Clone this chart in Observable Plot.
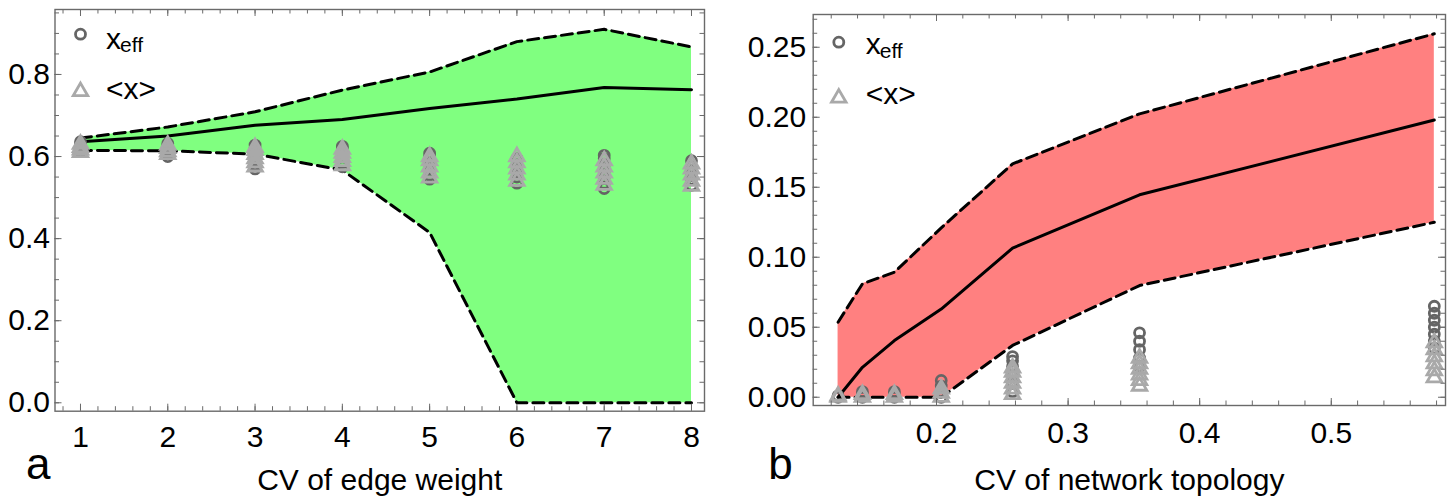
<!DOCTYPE html>
<html><head><meta charset="utf-8">
<script src="https://cdn.jsdelivr.net/npm/d3@7"></script>
<script src="https://cdn.jsdelivr.net/npm/@observablehq/plot@0.6"></script>
<style>
body{margin:0;background:#fff;}
#wrap{position:relative;width:1455px;height:501px;overflow:hidden;}
#pa{position:absolute;left:0;top:0;width:720px;}
#pb{position:absolute;left:720px;top:0;width:735px;}
</style></head><body><div id="wrap"><div id="pa"></div><div id="pb"></div></div>
<script>
// ---------- Panel a : CV of edge weight ----------
const cvEdge = [1, 2, 3, 4, 5, 6, 7, 8];
const edgeUpper = [0.645, 0.672, 0.709, 0.762, 0.806, 0.880, 0.910, 0.867];
const edgeMean  = [0.636, 0.650, 0.676, 0.690, 0.717, 0.740, 0.768, 0.763];
const edgeLower = [0.615, 0.614, 0.606, 0.567, 0.415, 0.000, 0.000, 0.000];
const edgeXeff = [
  [0.612, 0.620, 0.628, 0.636],
  [0.600, 0.608, 0.617, 0.625, 0.632],
  [0.570, 0.580, 0.590, 0.600, 0.610, 0.620, 0.628],
  [0.575, 0.585, 0.600, 0.610, 0.620, 0.625],
  [0.545, 0.555, 0.570, 0.585, 0.600, 0.608],
  [0.535, 0.550, 0.565, 0.580, 0.595],
  [0.522, 0.535, 0.550, 0.565, 0.580, 0.595, 0.603],
  [0.530, 0.545, 0.560, 0.575, 0.590]
];
const edgeXavg = [
  [0.610, 0.616, 0.622, 0.630],
  [0.605, 0.612, 0.620, 0.628],
  [0.575, 0.585, 0.595, 0.605, 0.615, 0.622],
  [0.578, 0.588, 0.598, 0.608, 0.618],
  [0.548, 0.560, 0.575, 0.590, 0.600],
  [0.540, 0.555, 0.570, 0.585, 0.600],
  [0.530, 0.545, 0.560, 0.575, 0.590],
  [0.528, 0.540, 0.555, 0.570, 0.582]
];
const edgeXTicks = [1, 2, 3, 4, 5, 6, 7, 8];
const edgeYTicks = [0.0, 0.2, 0.4, 0.6, 0.8];

// ---------- Panel b : CV of network topology ----------
const cvTopo = [0.1252, 0.1437, 0.1680, 0.2036, 0.2578, 0.3543, 0.5783];
const topoUpper = [0.0536, 0.0810, 0.0893, 0.1210, 0.1667, 0.2024, 0.2596];
const topoMean  = [0.0000, 0.0214, 0.0405, 0.0630, 0.1065, 0.1446, 0.1980];
const topoLower = [0.0000, 0.0000, 0.0000, 0.0000, 0.0370, 0.0798, 0.1250];
const topoXeff = [
  [0.000, 0.001],
  [0.000, 0.002, 0.004],
  [0.000, 0.002, 0.004],
  [0.000, 0.004, 0.008, 0.012],
  [0.004, 0.010, 0.016, 0.022, 0.026, 0.029],
  [0.022, 0.028, 0.034, 0.040, 0.046],
  [0.035, 0.040, 0.045, 0.050, 0.055, 0.060, 0.065]
];
const topoXavg = [
  [0.000, 0.001],
  [0.000, 0.002],
  [0.000, 0.002],
  [0.000, 0.003, 0.006],
  [0.002, 0.006, 0.010, 0.014, 0.018, 0.021],
  [0.008, 0.012, 0.016, 0.020, 0.024, 0.028],
  [0.014, 0.019, 0.024, 0.029, 0.034, 0.039]
];
const topoXTicks = [0.2, 0.3, 0.4, 0.5];
const topoYTicks = [0.00, 0.05, 0.10, 0.15, 0.20, 0.25];

const legendLabels = ["x", "eff", "<x>"];

const FONT = '"Liberation Sans", Arial, Helvetica, sans-serif';
const TICKC = "#6a6a6a";
const CIRC = {r: 5, symbol: "circle", stroke: "#656565", strokeWidth: 2.8, fill: "none"};
const TRI  = {r: 5.4, symbol: "triangle", stroke: "#a9a9a9", strokeWidth: 2.8, fill: "none"};

function makePanel(o) {
  const plotW = o.width - o.ml - o.mr, plotH = o.height - o.mt - o.mb;
  const band = o.xs.map((x, i) => ({x, hi: o.upper[i], mean: o.mean[i], lo: o.lower[i]}));
  const circ = o.xs.flatMap((x, i) => o.xeff[i].map(y => ({x, y})));
  const tri  = o.xs.flatMap((x, i) => o.xavg[i].map(y => ({x, y})));
  const MAJ = 7, MIN = 4.5;
  const tickMarks = [
    Plot.tickX(o.xMinor, {x: d => d, insetTop: plotH - MIN, stroke: TICKC}),
    Plot.tickX(o.xMinor, {x: d => d, insetBottom: plotH - MIN, stroke: TICKC}),
    Plot.tickX(o.xMajor, {x: d => d, insetTop: plotH - MAJ, stroke: TICKC}),
    Plot.tickX(o.xMajor, {x: d => d, insetBottom: plotH - MAJ, stroke: TICKC}),
    Plot.tickY(o.yMinor, {y: d => d, insetRight: plotW - MIN, stroke: TICKC}),
    Plot.tickY(o.yMinor, {y: d => d, insetLeft: plotW - MIN, stroke: TICKC}),
    Plot.tickY(o.yMajor, {y: d => d, insetRight: plotW - MAJ, stroke: TICKC}),
    Plot.tickY(o.yMajor, {y: d => d, insetLeft: plotW - MAJ, stroke: TICKC})
  ];
  const L = o.legend;
  return Plot.plot({
    width: o.width, height: o.height,
    marginLeft: o.ml, marginRight: o.mr, marginTop: o.mt, marginBottom: o.mb,
    style: {fontFamily: FONT, background: "white", color: "black"},
    x: {domain: o.xDomain},
    y: {domain: o.yDomain},
    marks: [
      Plot.areaY(band, {x: "x", y1: "lo", y2: "hi", fill: o.fill}),
      Plot.lineY(band, {x: "x", y: "hi", stroke: "black", strokeWidth: 3, strokeDasharray: "11,6"}),
      Plot.lineY(band, {x: "x", y: "lo", stroke: "black", strokeWidth: 3, strokeDasharray: "11,6"}),
      Plot.lineY(band, {x: "x", y: "mean", stroke: "black", strokeWidth: 3}),
      Plot.dot(circ, {x: "x", y: "y", ...CIRC}),
      Plot.dot(tri, {x: "x", y: "y", ...TRI}),
      Plot.frame({stroke: TICKC, strokeWidth: 1.4}),
      ...tickMarks,
      Plot.axisX({ticks: o.xMajor, tickSize: 0, tickPadding: o.xPad, tickFormat: d3.format(o.xFmt), fontSize: 30, label: null}),
      Plot.axisY({ticks: o.yMajor, tickSize: 0, tickPadding: o.yPad, tickFormat: d3.format(o.yFmt), fontSize: 30, label: null}),
      // legend
      Plot.dot([0], {frameAnchor: "top-left", dx: L.sx, dy: L.cy, ...CIRC}),
      Plot.dot([0], {frameAnchor: "top-left", dx: L.sx, dy: L.ty, ...TRI}),
      Plot.text([legendLabels[0]], {text: d => d, frameAnchor: "top-left", dx: L.tx, dy: L.y1, textAnchor: "start", lineAnchor: "middle", fontSize: 30}),
      Plot.text([legendLabels[1]], {text: d => d, frameAnchor: "top-left", dx: L.tx + 14, dy: L.y1 + 6, textAnchor: "start", lineAnchor: "middle", fontSize: 21}),
      Plot.text([legendLabels[2]], {text: d => d, frameAnchor: "top-left", dx: L.tx, dy: L.y2, textAnchor: "start", lineAnchor: "middle", fontSize: 30}),
      // axis title and panel letter
      Plot.text([o.xLabel], {text: d => d, frameAnchor: "bottom", dy: o.labelDy, lineAnchor: "middle", fontSize: 30}),
      Plot.text([o.letter], {text: d => d, frameAnchor: "bottom-left", dx: o.letterDx, dy: o.letterDy, textAnchor: "start", lineAnchor: "middle", fontSize: 44})
    ]
  });
}

document.getElementById("pa").append(makePanel({
  width: 720, height: 501, ml: 54.5, mr: 16, mt: 9, mb: 90.3,
  xDomain: [0.708, 8.149], yDomain: [-0.0205, 0.9583],
  xs: cvEdge, upper: edgeUpper, mean: edgeMean, lower: edgeLower,
  xeff: edgeXeff, xavg: edgeXavg, fill: "#80ff80",
  xMajor: edgeXTicks, xMinor: d3.range(0.8, 8.1, 0.2),
  yMajor: edgeYTicks, yMinor: d3.range(0, 0.96, 0.05),
  xFmt: "d", yFmt: ".1f", xPad: 14, yPad: 5,
  legend: {sx: 25.5, cy: 24.7, ty: 82, tx: 51, y1: 30, y2: 80},
  xLabel: "CV of edge weight", labelDy: 69,
  letter: "a", letterDx: -29, letterDy: 54
}));

document.getElementById("pb").append(makePanel({
  width: 735, height: 501, ml: 92.7, mr: 10, mt: 14, mb: 96,
  xDomain: [0.1063, 0.5868], yDomain: [-0.0059, 0.2734],
  xs: cvTopo, upper: topoUpper, mean: topoMean, lower: topoLower,
  xeff: topoXeff, xavg: topoXavg, fill: "#ff8080",
  xMajor: topoXTicks, xMinor: d3.range(0.12, 0.585, 0.02),
  yMajor: topoYTicks, yMinor: d3.range(0, 0.2705, 0.01),
  xFmt: ".1f", yFmt: ".2f", xPad: 16, yPad: 7,
  legend: {sx: 25.6, cy: 27.7, ty: 83.5, tx: 52.5, y1: 30.3, y2: 80.3},
  xLabel: "CV of network topology", labelDy: 75,
  letter: "b", letterDx: -45, letterDy: 59
}));
</script></body></html>
